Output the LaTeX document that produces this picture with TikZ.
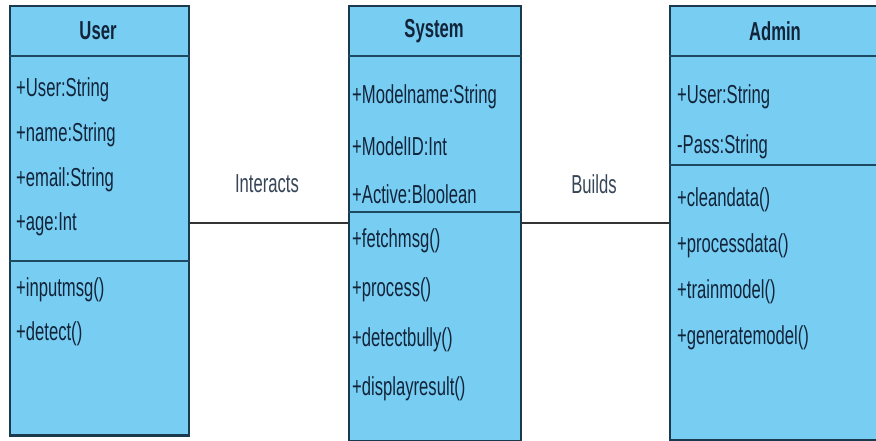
\documentclass[tikz,border=0pt]{standalone}
\usepackage{fontspec}
\setmainfont{Liberation Sans}[FakeStretch=0.64]
\definecolor{classfill}{HTML}{78CDF2}
\definecolor{classedge}{HTML}{1B3A4E}
\definecolor{divcol}{HTML}{1D4A60}
\definecolor{ink}{HTML}{12243A}
\definecolor{wire}{HTML}{333333}
\begin{document}
\begin{tikzpicture}[x=1pt,y=-1pt,
  classbox/.style={draw=classedge, fill=classfill, line width=1.6pt, inner sep=0pt, anchor=north west},
  classtitle/.style={font=\fontsize{26}{26}\selectfont\bfseries, text=ink, inner sep=0pt},
  member/.style={font=\fontsize{26}{26}\selectfont, text=ink, anchor=west, inner sep=0pt},
  assoclabel/.style={font=\fontsize{26}{26}\selectfont, text=ink!85, inner sep=0pt},
  divline/.style={draw=divcol, line width=2.6pt},
  baseline/.style={draw=classedge, line width=3pt},
  wireline/.style={draw=wire, line width=2pt}]
\useasboundingbox[fill=white] (0,0) rectangle (876,441);

% class boxes
\node[classbox, minimum width=179pt, minimum height=429pt] (user) at (9,5) {};
\node[classbox, minimum width=172pt, minimum height=435pt] (system) at (348,5) {};
\node[classbox, minimum width=212pt, minimum height=434pt] (admin) at (669,5) {};
\draw[baseline] (user.south west) -- (user.south east);
\draw[baseline] (system.south west) -- (system.south east);
\draw[baseline] (admin.south west) -- (admin.south east);

% compartment dividers
\draw[divline] (user.west |- 0,56) -- (user.east |- 0,56);
\draw[divline] (user.west |- 0,261) -- (user.east |- 0,261);
\draw[divline] (system.west |- 0,56) -- (system.east |- 0,56);
\draw[divline] (system.west |- 0,212) -- (system.east |- 0,212);
\draw[divline] (admin.west |- 0,56) -- (admin.east |- 0,56);
\draw[divline] (admin.west |- 0,165) -- (admin.east |- 0,165);

% titles
\node[classtitle] (usertitle) at (98,31) {User};
\node[classtitle] (systemtitle) at (434,31) {System};
\node[classtitle] (admintitle) at (775,31) {Admin};

% User members
\node[member] (ua1) at (16,90) {+User:String};
\node[member] (ua2) at (16,135) {+name:String};
\node[member] (ua3) at (16,180) {+email:String};
\node[member] (ua4) at (16,224) {+age:Int};
\node[member] (um1) at (16,290) {+inputmsg()};
\node[member] (um2) at (16,334) {+detect()};

% System members
\node[member] (sa1) at (352,97) {+Modelname:String};
\node[member] (sa2) at (352,146) {+ModelID:Int};
\node[member] (sa3) at (352,194) {+Active:Bloolean};
\node[member] (sm1) at (352,241) {+fetchmsg()};
\node[member] (sm2) at (352,290) {+process()};
\node[member] (sm3) at (352,340) {+detectbully()};
\node[member] (sm4) at (352,389) {+displayresult()};

% Admin members
\node[member] (aa1) at (677,97) {+User:String};
\node[member] (aa2) at (677,147) {-Pass:String};
\node[member] (am1) at (677,200) {+cleandata()};
\node[member] (am2) at (677,246) {+processdata()};
\node[member] (am3) at (677,292) {+trainmodel()};
\node[member] (am4) at (677,338) {+generatemodel()};

% associations
\coordinate (level) at (0,223);
\draw[wireline] (user.east |- level) -- (system.west |- level);
\draw[wireline] (system.east |- level) -- (admin.west |- level);
\node[assoclabel] (interacts) at (267,184) {Interacts};
\node[assoclabel] (builds) at (594,184) {Builds};
\end{tikzpicture}
\end{document}
